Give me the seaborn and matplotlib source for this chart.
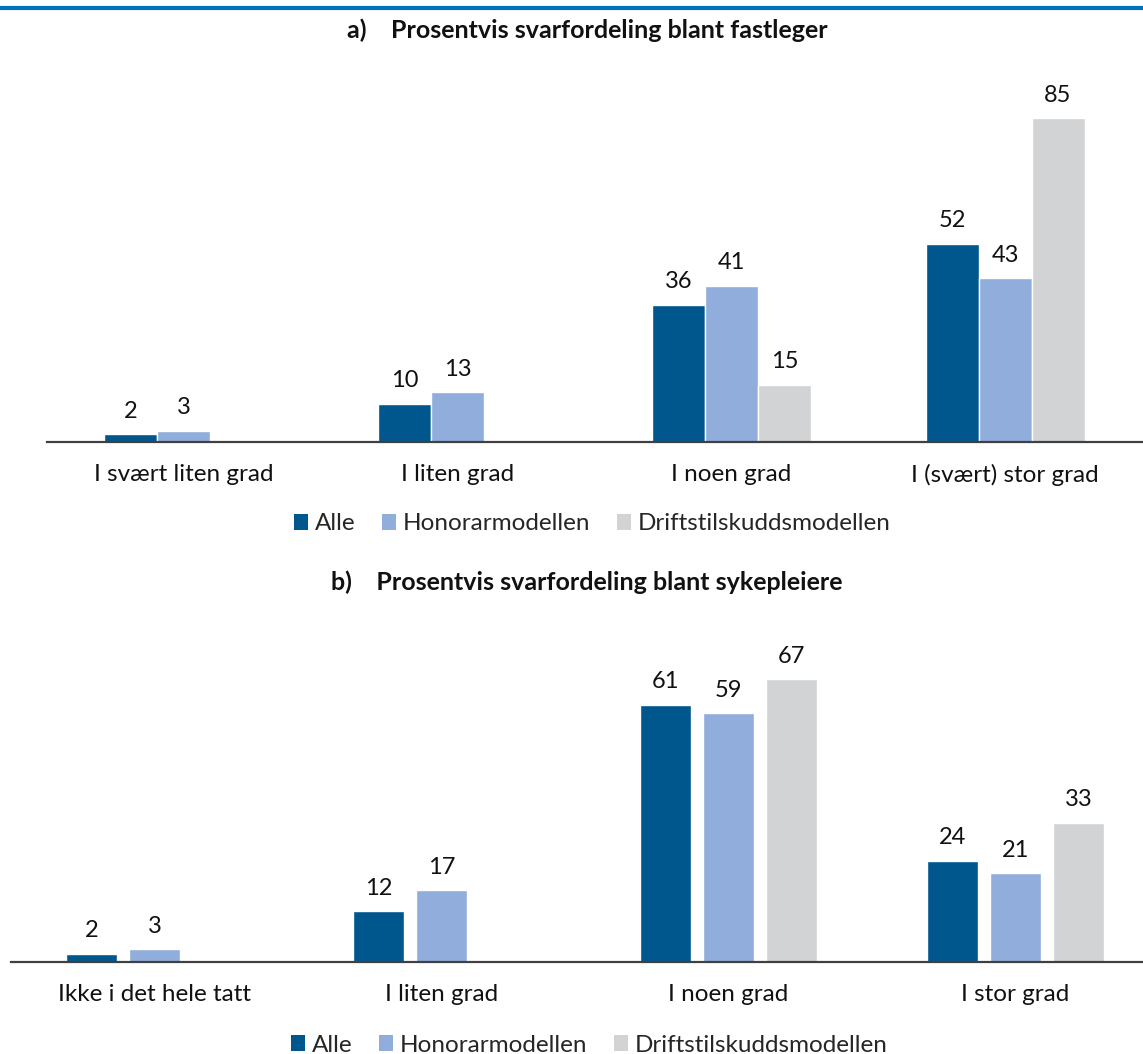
import numpy as np
import pandas as pd
import matplotlib.pyplot as plt
import seaborn as sns
from matplotlib.patches import Patch
from matplotlib.lines import Line2D

# data
modeller = ["Alle", "Honorarmodellen", "Driftstilskuddsmodellen"]
farger = ["#00578E", "#91ADDC", "#D1D3D5"]

kat_a = ["I svært liten grad", "I liten grad", "I noen grad", "I (svært) stor grad"]
alle_a = [2, 10, 36, 52]
honorar_a = [3, 13, 41, 43]
drift_a = [np.nan, np.nan, 15, 85]

kat_b = ["Ikke i det hele tatt", "I liten grad", "I noen grad", "I stor grad"]
alle_b = [2, 12, 61, 24]
honorar_b = [3, 17, 59, 21]
drift_b = [np.nan, np.nan, 67, 33]

tittel_a = "a)    Prosentvis svarfordeling blant fastleger"
tittel_b = "b)    Prosentvis svarfordeling blant sykepleiere"


def lag_df(kat, alle, honorar, drift):
    rader = []
    for navn, verdier in zip(modeller, [alle, honorar, drift]):
        for k, v in zip(kat, verdier):
            rader.append({"kategori": k, "modell": navn, "prosent": v})
    return pd.DataFrame(rader).dropna()


sns.set_style("white")
plt.rcParams["font.family"] = ["Lato", "DejaVu Sans"]

W, H = 1143, 1054
fig = plt.figure(figsize=(W / 100, H / 100), dpi=100)

# blå linje øverst
fig.add_artist(Line2D([0, 1], [1 - 8 / H] * 2, lw=3, color="#0070C0"))


def tegn(ax, df, kat, ymax, width, gap):
    sns.barplot(data=df, x="kategori", y="prosent", hue="modell",
                order=kat, hue_order=modeller, palette=farger,
                width=width, gap=gap, errorbar=None, legend=False, ax=ax,
                saturation=1)
    for c in ax.containers:
        ax.bar_label(c, fmt="%d", padding=9, fontsize=17, color="#111111")
    ax.set_xlim(-0.5, 3.5)
    ax.set_ylim(0, ymax)
    ax.set_xlabel("")
    ax.set_ylabel("")
    ax.set_yticks([])
    for s in ["top", "left", "right"]:
        ax.spines[s].set_visible(False)
    ax.spines["bottom"].set_color("#404040")
    ax.spines["bottom"].set_linewidth(1.6)
    ax.tick_params(axis="x", length=0, pad=16, labelsize=17.5, labelcolor="#111111")
    ax.set_facecolor("none")


# panel a
ax_a = fig.add_axes([47 / W, 1 - 442 / H, 1095 / W, 381 / H])
tegn(ax_a, lag_df(kat_a, alle_a, honorar_a, drift_a), kat_a, 100, 0.58, 0)

# panel b
ax_b = fig.add_axes([11 / W, 1 - 962 / H, 1148 / W, 337.6 / H])
tegn(ax_b, lag_df(kat_b, alle_b, honorar_b, drift_b), kat_b, 80, 0.659, 0.2)

fig.text(587 / W, 1 - 30 / H, tittel_a, ha="center", va="center",
         fontsize=18, fontweight="bold", color="#111111")
fig.text(587 / W, 1 - 582 / H, tittel_b, ha="center", va="center",
         fontsize=18, fontweight="bold", color="#111111")

handles = [Patch(facecolor=f, edgecolor="none", label=m) for f, m in zip(farger, modeller)]
for xc, yc in [(592, 524), (589, 1045)]:
    fig.legend(handles=handles, loc="center", bbox_to_anchor=(xc / W, 1 - yc / H),
               ncol=3, frameon=False, fontsize=17.5, handlelength=0.6,
               handleheight=0.6, handletextpad=0.25, columnspacing=1.1,
               borderaxespad=0, borderpad=0)

fig.savefig("out.png", dpi=100)
